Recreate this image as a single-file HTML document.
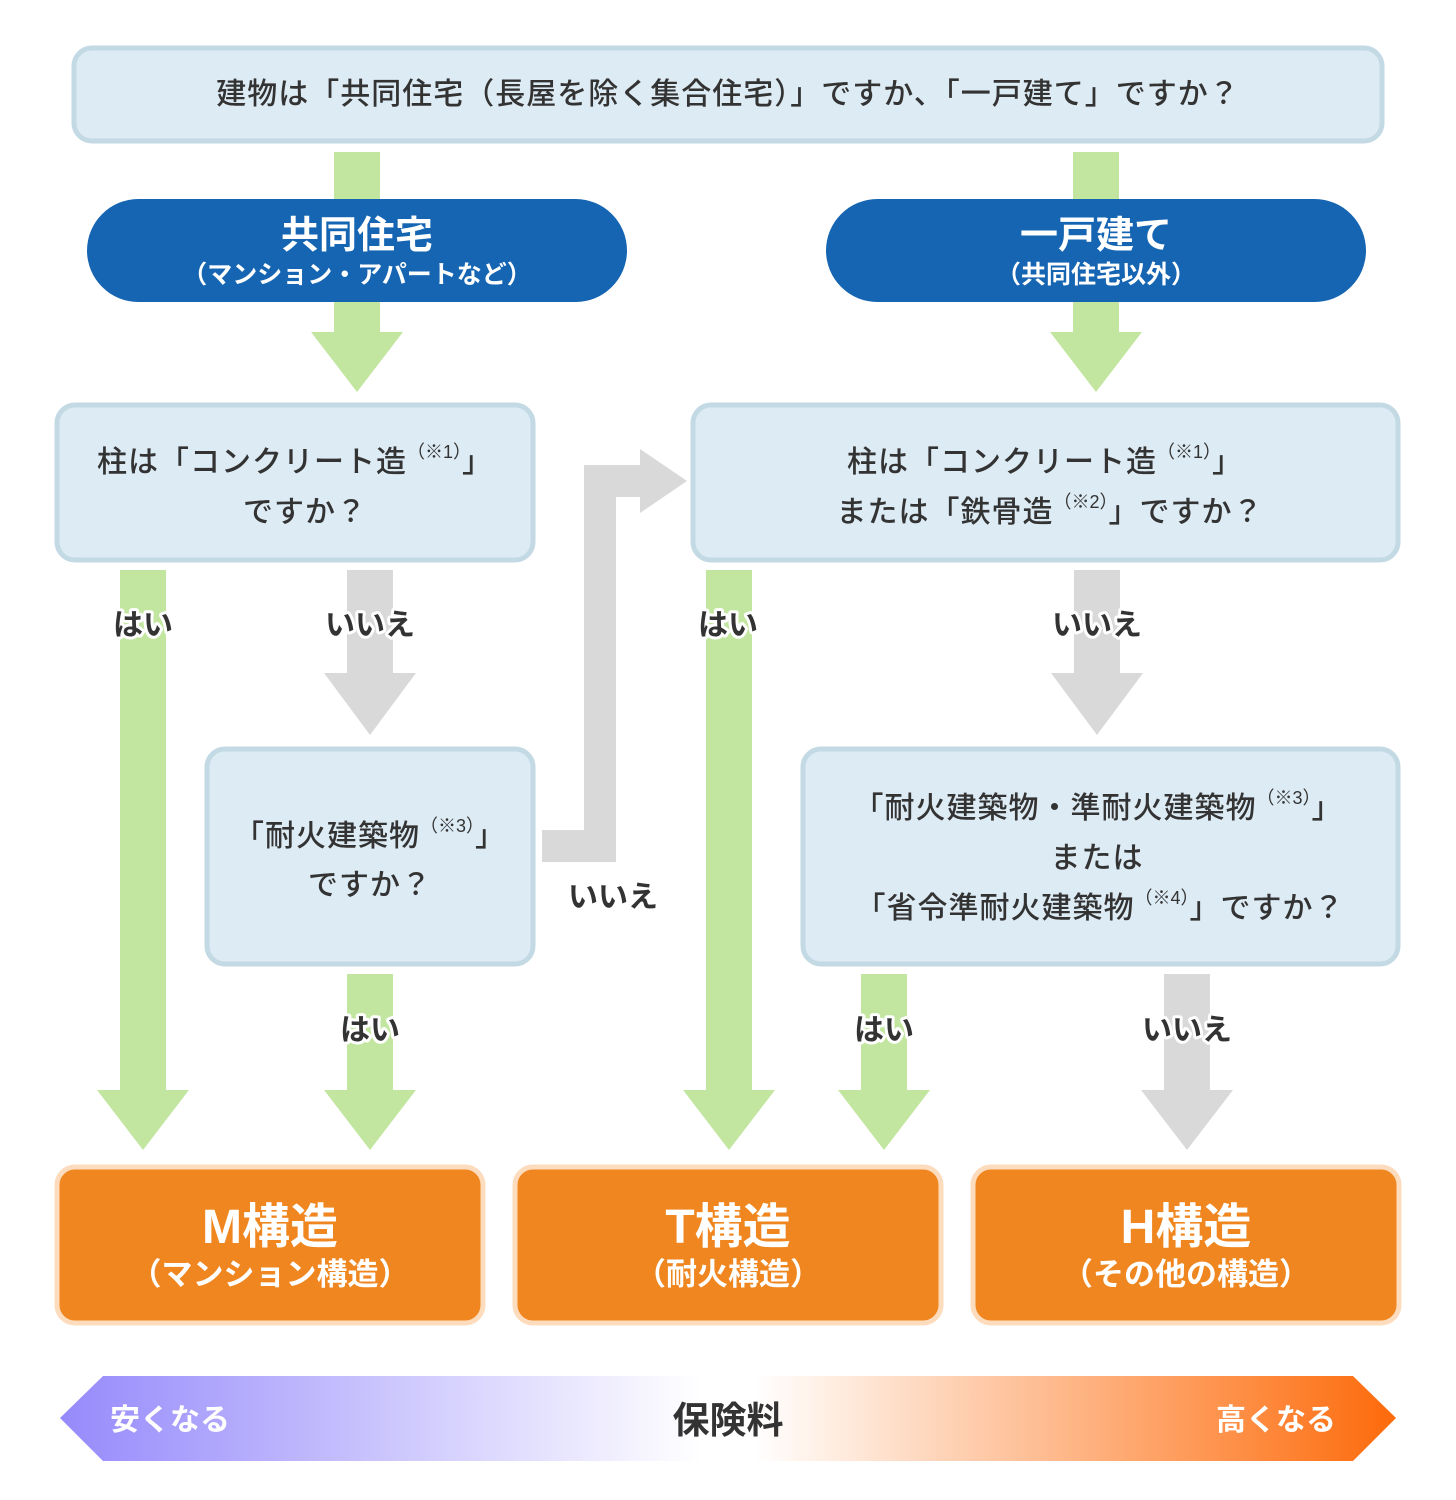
<!DOCTYPE html>
<html><head><meta charset="utf-8"><style>
html,body{margin:0;padding:0;background:#fff;}
svg{display:block;}
text{font-family:"Liberation Sans","Noto Sans CJK JP",sans-serif;}
.q{font-size:30px;font-weight:500;fill:#333;letter-spacing:1px;}
.sup{font-size:18px;font-weight:400;letter-spacing:0;}
.lbl{font-size:30px;font-weight:700;fill:#333;stroke:#fff;stroke-width:6px;paint-order:stroke;stroke-linejoin:round;}
.pt{font-size:38px;font-weight:700;fill:#fff;}
.ps{font-size:25px;font-weight:700;fill:#fff;}
.rt{font-size:48px;font-weight:700;fill:#fff;}
.rs{font-size:31px;font-weight:700;fill:#fff;}
</style></head><body>
<svg width="1456" height="1500" viewBox="0 0 1456 1500" xmlns="http://www.w3.org/2000/svg">
<defs>
<linearGradient id="g" x1="0" x2="1" y1="0" y2="0">
<stop offset="0" stop-color="#968afb"/>
<stop offset="0.48" stop-color="#ffffff"/>
<stop offset="0.52" stop-color="#ffffff"/>
<stop offset="1" stop-color="#fd6a0a"/>
</linearGradient>
</defs>
<rect x="74" y="48" width="1308" height="93" rx="18" fill="#ddebf4" stroke="#c3dae5" stroke-width="5"/>
<text class="q" x="728" y="104" text-anchor="middle">建物は「共同住宅（長屋を除く集合住宅）」ですか、「一戸建て」ですか？</text>
<rect x="334" y="152" width="46" height="50" fill="#c2e6a0"/>
<rect x="1073" y="152" width="46" height="50" fill="#c2e6a0"/>
<rect x="87" y="199" width="540" height="103" rx="51.5" fill="#1565b2"/>
<rect x="826" y="199" width="540" height="103" rx="51.5" fill="#1565b2"/>
<text class="pt" x="357" y="248" text-anchor="middle">共同住宅</text>
<text class="ps" x="357" y="283" text-anchor="middle">（マンション・アパートなど）</text>
<text class="pt" x="1096" y="248" text-anchor="middle">一戸建て</text>
<text class="ps" x="1096" y="283" text-anchor="middle">（共同住宅以外）</text>
<path d="M334 302H380V332H403L357 392L311 332H334Z" fill="#c2e6a0"/>
<path d="M1073 302H1119V332H1142L1096 392L1050 332H1073Z" fill="#c2e6a0"/>
<rect x="57" y="405" width="476" height="155" rx="18" fill="#ddebf4" stroke="#c3dae5" stroke-width="5"/>
<text class="q" x="295" y="472" text-anchor="middle">柱は「コンクリート造<tspan class="sup" dy="-14">（※1）</tspan><tspan dy="14">」</tspan></text>
<text class="q" x="305" y="522" text-anchor="middle">ですか？</text>
<rect x="693" y="405" width="705" height="155" rx="18" fill="#ddebf4" stroke="#c3dae5" stroke-width="5"/>
<text class="q" x="1045" y="472" text-anchor="middle">柱は「コンクリート造<tspan class="sup" dy="-14">（※1）</tspan><tspan dy="14">」</tspan></text>
<text class="q" x="1050" y="522" text-anchor="middle">または「鉄骨造<tspan class="sup" dy="-14">（※2）</tspan><tspan dy="14">」ですか？</tspan></text>
<path d="M120 570H166V1090H189L143 1150L97 1090H120Z" fill="#c2e6a0"/>
<path d="M347 570H393V673H416L370 735L324 673H347Z" fill="#d9d9d9"/>
<rect x="207" y="749" width="326" height="215" rx="18" fill="#ddebf4" stroke="#c3dae5" stroke-width="5"/>
<text class="q" x="370" y="846" text-anchor="middle">「耐火建築物<tspan class="sup" dy="-14">（※3）</tspan><tspan dy="14">」</tspan></text>
<text class="q" x="370" y="895" text-anchor="middle">ですか？</text>
<path d="M347 974H393V1090H416L370 1150L324 1090H347Z" fill="#c2e6a0"/>
<path d="M542 830H584V465H640V449L687 481L640 513V497H616V862H542Z" fill="#d9d9d9"/>
<path d="M706 570H752V1090H775L729 1150L683 1090H706Z" fill="#c2e6a0"/>
<path d="M1074 570H1120V673H1143L1097 735L1051 673H1074Z" fill="#d9d9d9"/>
<rect x="803" y="749" width="595" height="215" rx="18" fill="#ddebf4" stroke="#c3dae5" stroke-width="5"/>
<text class="q" x="1098" y="818" text-anchor="middle">「耐火建築物・準耐火建築物<tspan class="sup" dy="-14">（※3）</tspan><tspan dy="14">」</tspan></text>
<text class="q" x="1097" y="868" text-anchor="middle">または</text>
<text class="q" x="1100" y="918" text-anchor="middle">「省令準耐火建築物<tspan class="sup" dy="-14">（※4）</tspan><tspan dy="14">」ですか？</tspan></text>
<path d="M861 974H907V1090H930L884 1150L838 1090H861Z" fill="#c2e6a0"/>
<path d="M1164 974H1210V1090H1233L1187 1150L1141 1090H1164Z" fill="#d9d9d9"/>
<text class="lbl" x="143" y="635" text-anchor="middle">はい</text>
<text class="lbl" x="370" y="635" text-anchor="middle">いいえ</text>
<text class="lbl" x="728" y="635" text-anchor="middle">はい</text>
<text class="lbl" x="1097" y="635" text-anchor="middle">いいえ</text>
<text class="lbl" x="613" y="907" text-anchor="middle">いいえ</text>
<text class="lbl" x="370" y="1040" text-anchor="middle">はい</text>
<text class="lbl" x="884" y="1040" text-anchor="middle">はい</text>
<text class="lbl" x="1187" y="1040" text-anchor="middle">いいえ</text>
<rect x="57" y="1167" width="426" height="156" rx="18" fill="#f0861f" stroke="#fddcbd" stroke-width="5"/>
<rect x="515" y="1167" width="426" height="156" rx="18" fill="#f0861f" stroke="#fddcbd" stroke-width="5"/>
<rect x="973" y="1167" width="426" height="156" rx="18" fill="#f0861f" stroke="#fddcbd" stroke-width="5"/>
<text class="rt" x="270" y="1243" text-anchor="middle">M構造</text>
<text class="rs" x="270" y="1285" text-anchor="middle">（マンション構造）</text>
<text class="rt" x="728" y="1243" text-anchor="middle">T構造</text>
<text class="rs" x="728" y="1285" text-anchor="middle">（耐火構造）</text>
<text class="rt" x="1186" y="1243" text-anchor="middle">H構造</text>
<text class="rs" x="1186" y="1285" text-anchor="middle">（その他の構造）</text>
<path d="M60 1418L103 1376H1353L1396 1418L1353 1461H103Z" fill="url(#g)"/>
<text x="170" y="1430" text-anchor="middle" style="font-size:30px;font-weight:700;fill:#fff">安くなる</text>
<text x="728" y="1433" text-anchor="middle" style="font-size:37px;font-weight:700;fill:#333">保険料</text>
<text x="1276" y="1430" text-anchor="middle" style="font-size:30px;font-weight:700;fill:#fff">高くなる</text>
</svg>
</body></html>
